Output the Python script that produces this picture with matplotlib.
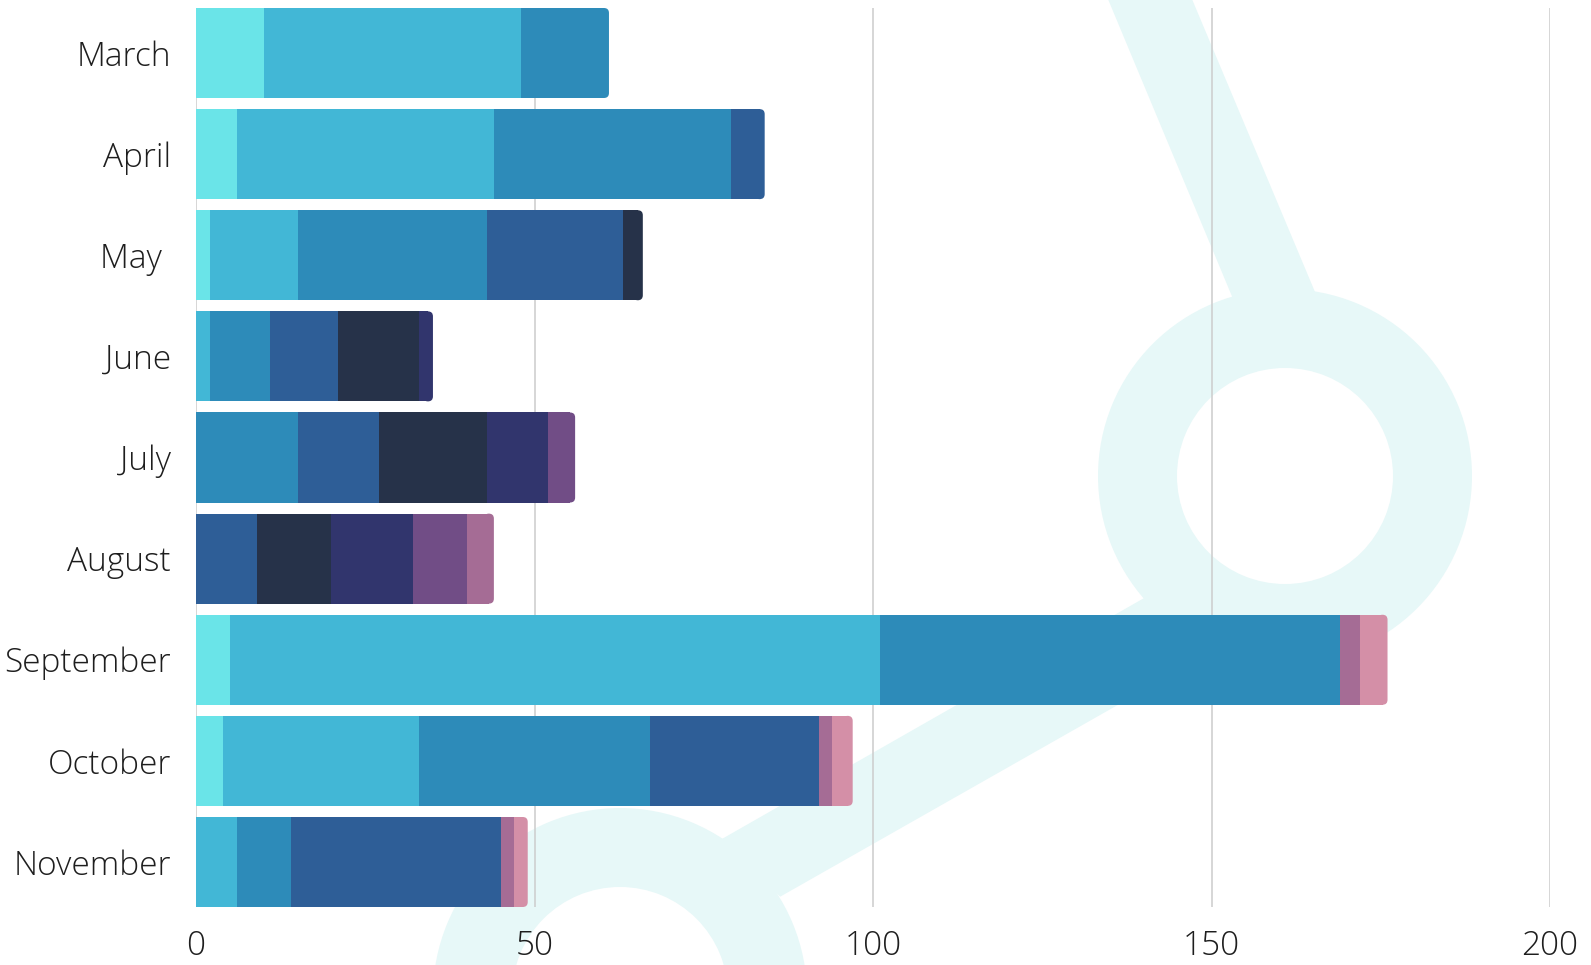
import matplotlib
matplotlib.use('Agg')
import matplotlib.pyplot as plt
from matplotlib.patches import FancyBboxPatch, Polygon, Annulus

# months top to bottom
months = ['March', 'April', 'May ', 'June', 'July', 'August', 'September', 'October', 'November']

# stacked series, left to right
s1 = [10, 6, 2, 0, 0, 0, 5, 4, 0]
s2 = [38, 38, 13, 2, 0, 0, 96, 29, 6]
s3 = [13, 35, 28, 9, 15, 0, 68, 34, 8]
s4 = [0, 5, 20, 10, 12, 9, 0, 25, 31]
s5 = [0, 0, 3, 12, 16, 11, 0, 0, 0]
s6 = [0, 0, 0, 2, 9, 12, 0, 0, 0]
s7 = [0, 0, 0, 0, 4, 8, 0, 0, 0]
s8 = [0, 0, 0, 0, 0, 4, 3, 2, 2]
s9 = [0, 0, 0, 0, 0, 0, 4, 3, 2]
series = [s1, s2, s3, s4, s5, s6, s7, s8, s9]

colors = ['#6ae4e8', '#42b7d6', '#2d8bb9', '#2e5e97', '#263249',
          '#31356d', '#714d86', '#a56c95', '#d48fa7']

xticks = [0, 50, 100, 150, 200]

W, H = 1591, 965
plt.rcParams['font.family'] = ['Open Sans', 'DejaVu Sans']

fig = plt.figure(figsize=(W / 100, H / 100), dpi=100)

# background watermark, drawn in pixel coords
bg = fig.add_axes([0, 0, 1, 1], zorder=0)
bg.set_xlim(0, W)
bg.set_ylim(H, 0)
bg.axis('off')
wm = '#e7f8f8'
bg.add_patch(Polygon([(1100, -20), (1184, -20), (1331, 330), (1246, 330)], closed=True, color=wm, lw=0))
bg.add_patch(Annulus((1285, 476), 187, 79, color=wm, lw=0))
bg.add_patch(Polygon([(1143.6, 598.3), (721.3, 839.3), (780.2, 896.7), (1300, 601.5)], closed=True, color=wm, lw=0))
bg.add_patch(Annulus((620, 995), 187, 79, color=wm, lw=0))

left, right, top, bottom = 196, 1550, 8, 907
ax = fig.add_axes([left / W, (H - bottom) / H, (right - left) / W, (bottom - top) / H], zorder=1)
ax.set_facecolor('none')

bar_h = 0.89
r_px = 5
px_x = (right - left) / 200.0
px_y = (bottom - top) / (len(months) - 1 + bar_h)
rx = r_px / px_x
aspect = (r_px / px_y) / rx

for i, m in enumerate(months):
    vals = [s[i] for s in series]
    last = max(k for k, v in enumerate(vals) if v > 0)
    acc = 0
    for k, v in enumerate(vals):
        if v <= 0:
            continue
        if k == last:
            # last segment gets rounded right corners
            ax.barh(i, v - rx, left=acc, height=bar_h, color=colors[k], lw=0, zorder=2)
            box = FancyBboxPatch((acc + v - 2 * rx, i - bar_h / 2), 2 * rx, bar_h,
                                 boxstyle=f'round,pad=0,rounding_size={rx}',
                                 mutation_aspect=aspect, fc=colors[k], lw=0, zorder=2)
            ax.add_patch(box)
        else:
            ax.barh(i, v, left=acc, height=bar_h, color=colors[k], lw=0, zorder=2)
        acc += v

ax.set_xlim(0, 200)
ax.set_ylim(len(months) - 1 + bar_h / 2, -bar_h / 2)
ax.set_yticks(range(len(months)))
ax.set_yticklabels(months)
ax.set_xticks(xticks)
ax.set_xticklabels([str(t) for t in xticks])
for s in ax.spines.values():
    s.set_visible(False)
ax.tick_params(axis='y', length=0, pad=18, labelsize=24, labelcolor='#1e1e1e')
ax.tick_params(axis='x', length=0, pad=16, labelsize=24, labelcolor='#1e1e1e')
for lab in ax.get_xticklabels() + ax.get_yticklabels():
    lab.set_fontweight('light')
ax.xaxis.grid(True, color='#cccccc', lw=1.1, zorder=0)
ax.set_axisbelow(True)

fig.savefig('out.png', dpi=100)
